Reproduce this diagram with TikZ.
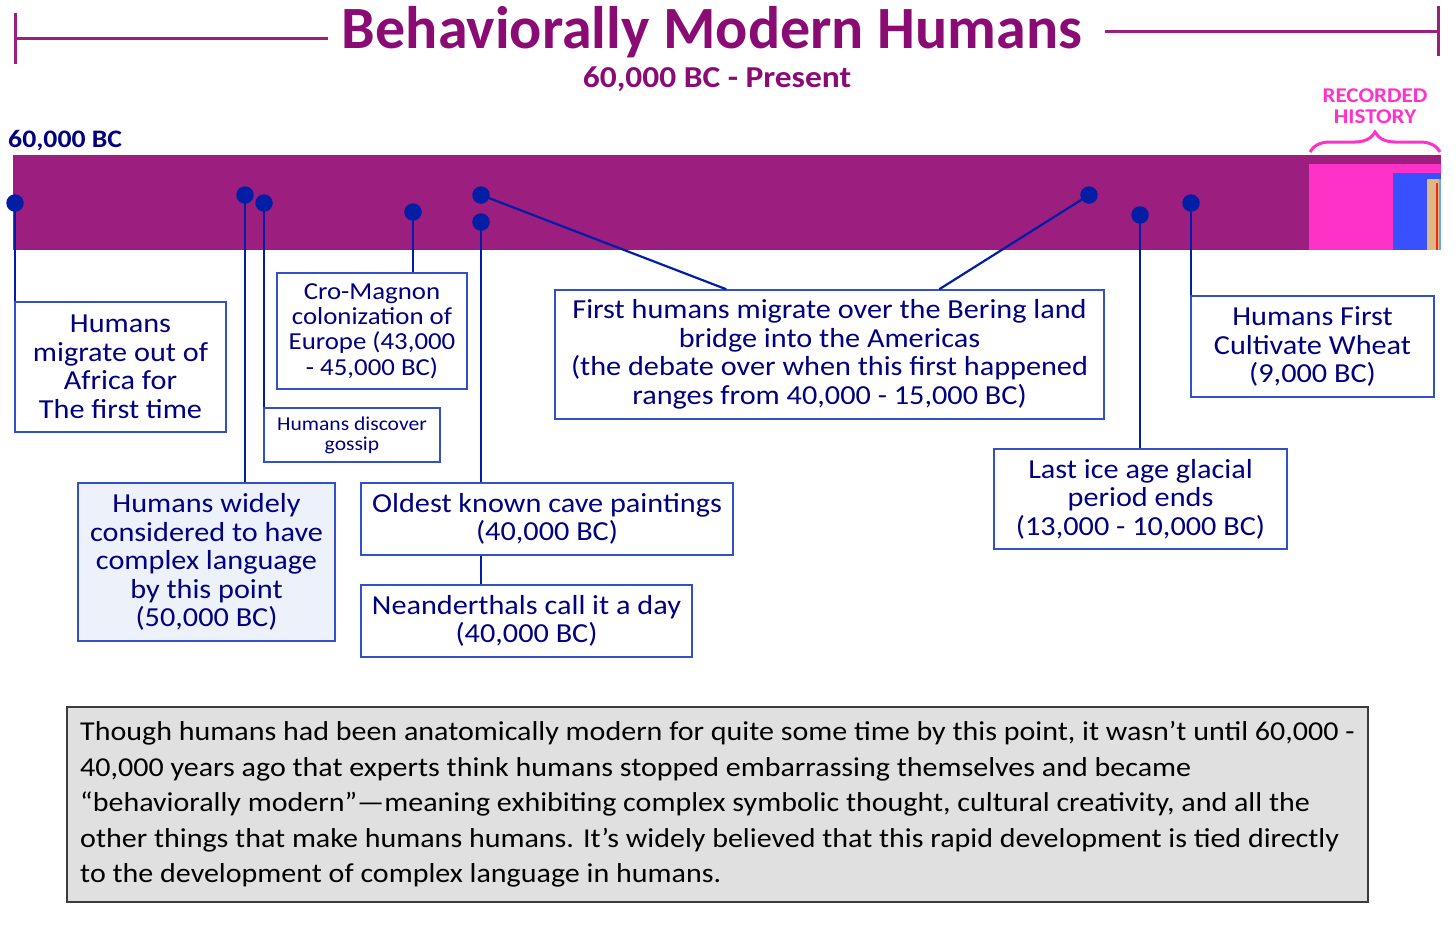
\documentclass[tikz,border=0pt]{standalone}
\usepackage{fontspec}
\setmainfont{Carlito}
\newfontfamily\boxfont[FakeStretch=1.1]{Carlito}
\usetikzlibrary{shapes,arrows,decorations.pathreplacing}
\definecolor{titlepurple}{RGB}{139,11,116}
\definecolor{barpurple}{RGB}{156,31,128}
\definecolor{pinblue}{RGB}{2,30,165}
\definecolor{boxblue}{RGB}{50,80,200}
\definecolor{navy}{RGB}{0,0,128}
\definecolor{recpink}{RGB}{255,50,200}
\definecolor{recblue}{RGB}{56,80,255}
\definecolor{rectan}{RGB}{222,184,135}
\definecolor{recred}{RGB}{240,40,20}
\definecolor{recsky}{RGB}{100,170,230}
\definecolor{lightfill}{RGB}{236,241,250}
\definecolor{notefill}{RGB}{224,224,224}
\definecolor{notegrey}{RGB}{60,60,60}
\tikzstyle{event} = [rectangle, draw=boxblue, line width=1.5pt, fill=white,
    text=navy, align=center, inner sep=0pt, font=\boxfont\fontsize{27.5}{28.5}\selectfont]
\tikzstyle{pinhead} = [circle, fill=pinblue, minimum size=17.5pt, inner sep=0pt]
\tikzstyle{line} = [draw=pinblue, line width=2.2pt]
\tikzstyle{bracket} = [draw=barpurple, line width=3pt]

\begin{document}
\begin{tikzpicture}[x=1pt, y=-1pt]
        \useasboundingbox (0,0) rectangle (1456,930);
        % Title
        \node (title) [anchor=base, text=titlepurple, font=\fontsize{60}{70}\selectfont\bfseries] at (712,48) {Behaviorally Modern Humans};
        \node (range) [anchor=base, text=titlepurple, font=\boxfont\fontsize{30.4}{34}\selectfont\bfseries] at (717,87) {60,000 BC - Present};
        \path [bracket] (15,13) -- (15,64) (15,38) -- (328,38);
        \path [bracket] (1105,31) -- (1438,31) (1438,6) -- (1438,56);

        % Timeline bar
        \node (start) [anchor=base west, inner sep=0pt, text=navy, font=\boxfont\fontsize{25.2}{30}\selectfont\bfseries] at (8,147) {60,000 BC};
        \node (bar) [rectangle, fill=barpurple, anchor=north west, inner sep=0pt, minimum width=1428, minimum height=95] at (13,155) {};
        \fill [recpink] (1309,164) rectangle (1441,250);
        \fill [recblue] (1393,173) rectangle (1441,250);
        \fill [rectan] (1427,179) rectangle (1441,250);
        \fill [recred] (1436,183) rectangle (1438,250);
        \fill [recsky] (1439,179) rectangle (1441,250);
        \path [draw=recpink, line width=3pt, decorate, decoration={brace, amplitude=20pt}] (1310,152) -- (1440,152);
        \node (recorded) [align=center, text=recpink, font=\boxfont\fontsize{21}{21}\selectfont\bfseries] at (1375,106) {RECORDED\\HISTORY};

        % Place pins
        \node (africapin) [pinhead] at (15,203) {};
        \node (languagepin) [pinhead] at (245,195) {};
        \node (gossippin) [pinhead] at (264,203) {};
        \node (cromagnonpin) [pinhead] at (413,212) {};
        \node (beringpin) [pinhead] at (481,195) {};
        \node (cavepin) [pinhead] at (481,222) {};
        \node (beringendpin) [pinhead] at (1089,195) {};
        \node (icepin) [pinhead] at (1140,215) {};
        \node (wheatpin) [pinhead] at (1191,203) {};

        % Place events
        \node (africa) [event, minimum width=211, minimum height=130] at (120.5,367) {Humans\\migrate out of\\Africa for\\The first time};
        \node (language) [event, fill=lightfill, minimum width=257, minimum height=158] at (206.5,562) {Humans widely\\considered to have\\complex language\\by this point\\(50,000 BC)};
        \node (gossip) [event, font=\boxfont\fontsize{19.6}{20}\selectfont, minimum width=176, minimum height=54] at (352,435) {Humans discover\\gossip};
        \node (cromagnon) [event, font=\boxfont\fontsize{24.4}{25.3}\selectfont, minimum width=190, minimum height=116] at (372,331) {Cro-Magnon\\colonization of\\Europe (43,000\\- 45,000 BC)};
        \node (bering) [event, minimum width=549, minimum height=129] at (829.5,354.5) {First humans migrate over the Bering land\\bridge into the Americas\\(the debate over when this first happened\\ranges from 40,000 - 15,000 BC)};
        \node (cave) [event, minimum width=372, minimum height=72] at (547,519) {Oldest known cave paintings\\(40,000 BC)};
        \node (neander) [event, minimum width=331, minimum height=72] at (526.5,621) {Neanderthals call it a day\\(40,000 BC)};
        \node (ice) [event, minimum width=293, minimum height=100] at (1140.5,499) {Last ice age glacial\\period ends\\(13,000 - 10,000 BC)};
        \node (wheat) [event, minimum width=243, minimum height=101] at (1312.5,346.5) {Humans First\\Cultivate Wheat\\(9,000 BC)};

        % Connect pins
        \path [line] (africapin.center) -- (africapin.center |- africa.north);
        \path [line] (languagepin.center) -- (languagepin.center |- language.north);
        \path [line] (gossippin.center) -- (gossippin.center |- gossip.north);
        \path [line] (cromagnonpin.center) -- (cromagnonpin.center |- cromagnon.north);
        \path [line] (beringpin.center) -- ([xshift=172pt]bering.north west);
        \path [line] (beringendpin.center) -- ([xshift=385pt]bering.north west);
        \path [line] (cavepin.center) -- (cavepin.center |- cave.north);
        \path [line] (cavepin.center |- cave.south) -- (cavepin.center |- neander.north);
        \path [line] (icepin.center) -- (icepin.center |- ice.north);
        \path [line] (wheatpin.center) -- (wheatpin.center |- wheat.north);

        % Note
        \node (note) [rectangle, draw=notegrey, fill=notefill, line width=1.2pt, inner sep=0pt, align=left,
            minimum width=1301, minimum height=195, font=\boxfont\fontsize{27.3}{35.6}\selectfont] at (717.5,804.5)
            {Though humans had been anatomically modern for quite some time by this point, it wasn’t until 60,000 -\\
             40,000 years ago that experts think humans stopped embarrassing themselves and became\\
             “behaviorally modern”—meaning exhibiting complex symbolic thought, cultural creativity, and all the\\
             other things that make humans humans. It’s widely believed that this rapid development is tied directly\\
             to the development of complex language in humans.};
    \end{tikzpicture}
\end{document}
